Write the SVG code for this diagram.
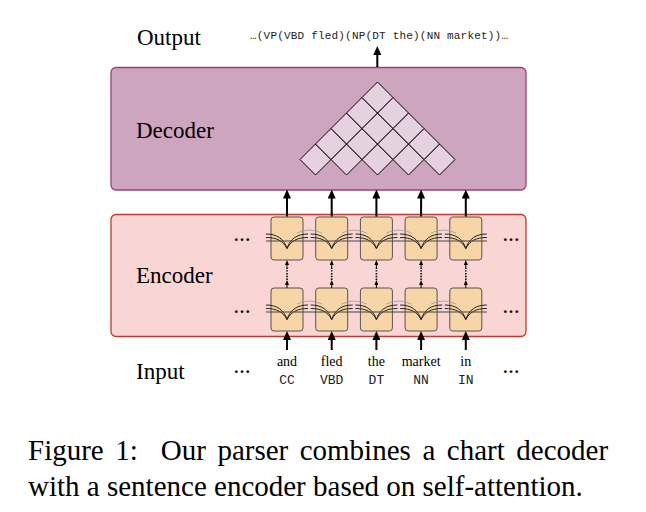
<svg xmlns="http://www.w3.org/2000/svg" xmlns:xlink="http://www.w3.org/1999/xlink" width="646" height="512" viewBox="0 0 646 512">
<style>
.lbl{font-family:"Liberation Serif","Times New Roman",serif;font-size:23px;fill:#000}
.word{font-family:"Liberation Serif","Times New Roman",serif;font-size:14px;fill:#000;text-anchor:middle}
.tag{font-family:"Liberation Mono","Courier New",monospace;font-size:13px;fill:#222;text-anchor:middle}
.dots{font-family:"Liberation Serif",serif;font-size:17px;font-weight:bold;fill:#000;text-anchor:middle}
.cap{font-family:"Liberation Serif","Times New Roman",serif;font-size:29px;fill:#000}
.cell{fill:#f7d5a7;stroke:#555;stroke-width:1}
.dia{fill:#e6d1df;stroke:#000;stroke-width:1}
.att{fill:none;stroke:#222;stroke-width:1}
.faint{fill:none;stroke:#999;stroke-width:0.8}
.arr{stroke:#000;stroke-width:2;fill:none}
.sarr{stroke:#000;stroke-width:1;fill:none}
.dot{stroke:#000;stroke-width:1.6;fill:none;stroke-dasharray:1.4 1.4}
</style>
<defs>
<marker id="ah" viewBox="0 0 9 8" refX="4" refY="4" markerWidth="9" markerHeight="8" markerUnits="userSpaceOnUse" orient="auto">
<path d="M0,0 L9,4 L0,8 Z" fill="#000"/>
</marker>
<marker id="sh" viewBox="0 0 5 4" refX="2" refY="2" markerWidth="5" markerHeight="4" markerUnits="userSpaceOnUse" orient="auto">
<path d="M0,0 L5,2 L0,4 Z" fill="#000"/>
</marker>
<path id="dm" class="dia" d="M0,-15.5 L15.5,0 L0,15.5 L-15.5,0 Z"/>
<g id="cellg">
<rect class="cell" x="-16" y="0" width="32" height="43" rx="3"/>
<path class="att" d="M-21,17 C-10,17 -3,22 0,31.5 M-21,20.5 C-10,20.5 -4,24 0,31.5 M21,17 C10,17 3,22 0,31.5 M21,20.5 C10,20.5 4,24 0,31.5"/>
</g>
<path id="arc" class="faint" d="M10,16 Q22,10 35,16"/>
</defs>

<g id="decoder">
<rect x="111" y="67.5" width="415" height="122.5" rx="5" fill="#cea5bf" stroke="#9c3f79" stroke-width="1.3"/>
<text class="lbl" x="136" y="138">Decoder</text>
<g id="chart">
<use href="#dm" x="315.5" y="159.5"/><use href="#dm" x="346.5" y="159.5"/><use href="#dm" x="377.5" y="159.5"/><use href="#dm" x="408.5" y="159.5"/><use href="#dm" x="439.5" y="159.5"/>
<use href="#dm" x="331" y="144"/><use href="#dm" x="362" y="144"/><use href="#dm" x="393" y="144"/><use href="#dm" x="424" y="144"/>
<use href="#dm" x="346.5" y="128.5"/><use href="#dm" x="377.5" y="128.5"/><use href="#dm" x="408.5" y="128.5"/>
<use href="#dm" x="362" y="113"/><use href="#dm" x="393" y="113"/>
<use href="#dm" x="377.5" y="97.5"/>
</g>
</g>

<g id="encoder">
<rect x="111" y="214.5" width="415" height="122" rx="5" fill="#f9d6d4" stroke="#c0392b" stroke-width="1.3"/>
<text class="lbl" x="136" y="283">Encoder</text>
<g id="row-upper">
<use href="#cellg" x="287" y="217"/><use href="#cellg" x="331.7" y="217"/><use href="#cellg" x="376.4" y="217"/><use href="#cellg" x="421.1" y="217"/><use href="#cellg" x="465.8" y="217"/>
<use href="#arc" x="287" y="217"/><use href="#arc" x="331.7" y="217"/><use href="#arc" x="376.4" y="217"/><use href="#arc" x="421.1" y="217"/>
<line x1="266" y1="241" x2="487" y2="241" stroke="#444" stroke-width="1"/>
</g>
<g id="row-lower">
<use href="#cellg" x="287" y="288"/><use href="#cellg" x="331.7" y="288"/><use href="#cellg" x="376.4" y="288"/><use href="#cellg" x="421.1" y="288"/><use href="#cellg" x="465.8" y="288"/>
<use href="#arc" x="287" y="288"/><use href="#arc" x="331.7" y="288"/><use href="#arc" x="376.4" y="288"/><use href="#arc" x="421.1" y="288"/>
<line x1="266" y1="312" x2="487" y2="312" stroke="#444" stroke-width="1"/>
</g>
<text class="dots" x="242" y="240.5">…</text>
<text class="dots" x="511" y="240.5">…</text>
<text class="dots" x="242" y="312.5">…</text>
<text class="dots" x="511" y="312.5">…</text>
</g>

<g id="output">
<text class="lbl" x="137" y="45">Output</text>
<text x="250" y="38.5" font-family="Liberation Mono, Courier New, monospace" font-size="11" fill="#222" textLength="258" lengthAdjust="spacing">…(VP(VBD fled)(NP(DT the)(NN market))…</text>
</g>

<g id="input">
<text class="lbl" x="136" y="379">Input</text>
<text class="dots" x="242" y="373">…</text>
<text class="dots" x="511" y="373">…</text>
<text class="word" x="287" y="366">and</text><text class="tag" x="287" y="384">CC</text>
<text class="word" x="331.7" y="366">fled</text><text class="tag" x="331.7" y="384">VBD</text>
<text class="word" x="376.4" y="366">the</text><text class="tag" x="376.4" y="384">DT</text>
<text class="word" x="421.1" y="366">market</text><text class="tag" x="421.1" y="384">NN</text>
<text class="word" x="465.8" y="366">in</text><text class="tag" x="465.8" y="384">IN</text>
</g>

<g id="connectors">
<line class="arr" x1="377.3" y1="67" x2="377.3" y2="51" marker-end="url(#ah)"/>
<line class="arr" x1="287" y1="216.5" x2="287" y2="194.5" marker-end="url(#ah)"/>
<line class="arr" x1="331.7" y1="216.5" x2="331.7" y2="194.5" marker-end="url(#ah)"/>
<line class="arr" x1="376.4" y1="216.5" x2="376.4" y2="194.5" marker-end="url(#ah)"/>
<line class="arr" x1="421.1" y1="216.5" x2="421.1" y2="194.5" marker-end="url(#ah)"/>
<line class="arr" x1="465.8" y1="216.5" x2="465.8" y2="194.5" marker-end="url(#ah)"/>
<line class="arr" x1="287" y1="350" x2="287" y2="336" marker-end="url(#ah)"/>
<line class="arr" x1="331.7" y1="350" x2="331.7" y2="336" marker-end="url(#ah)"/>
<line class="arr" x1="376.4" y1="350" x2="376.4" y2="336" marker-end="url(#ah)"/>
<line class="arr" x1="421.1" y1="350" x2="421.1" y2="336" marker-end="url(#ah)"/>
<line class="arr" x1="465.8" y1="350" x2="465.8" y2="336" marker-end="url(#ah)"/>
<g id="vertical-links">
<path class="sarr" d="M287,288 V283" marker-end="url(#sh)"/><line class="dot" x1="287" y1="280" x2="287" y2="268"/><path class="sarr" d="M287,269 V263" marker-end="url(#sh)"/>
<path class="sarr" d="M331.7,288 V283" marker-end="url(#sh)"/><line class="dot" x1="331.7" y1="280" x2="331.7" y2="268"/><path class="sarr" d="M331.7,269 V263" marker-end="url(#sh)"/>
<path class="sarr" d="M376.4,288 V283" marker-end="url(#sh)"/><line class="dot" x1="376.4" y1="280" x2="376.4" y2="268"/><path class="sarr" d="M376.4,269 V263" marker-end="url(#sh)"/>
<path class="sarr" d="M421.1,288 V283" marker-end="url(#sh)"/><line class="dot" x1="421.1" y1="280" x2="421.1" y2="268"/><path class="sarr" d="M421.1,269 V263" marker-end="url(#sh)"/>
<path class="sarr" d="M465.8,288 V283" marker-end="url(#sh)"/><line class="dot" x1="465.8" y1="280" x2="465.8" y2="268"/><path class="sarr" d="M465.8,269 V263" marker-end="url(#sh)"/>
</g>
</g>

<g id="caption">
<text class="cap" y="460"><tspan x="28">Figure</tspan><tspan x="115.2">1:</tspan><tspan x="160.8">Our</tspan><tspan x="217.4">parser</tspan><tspan x="299.7">combines</tspan><tspan x="422.4">a</tspan><tspan x="446.8">chart</tspan><tspan x="516.3">decoder</tspan></text>
<text class="cap" x="28" y="496">with a sentence encoder based on self-attention.</text>
</g>
</svg>
